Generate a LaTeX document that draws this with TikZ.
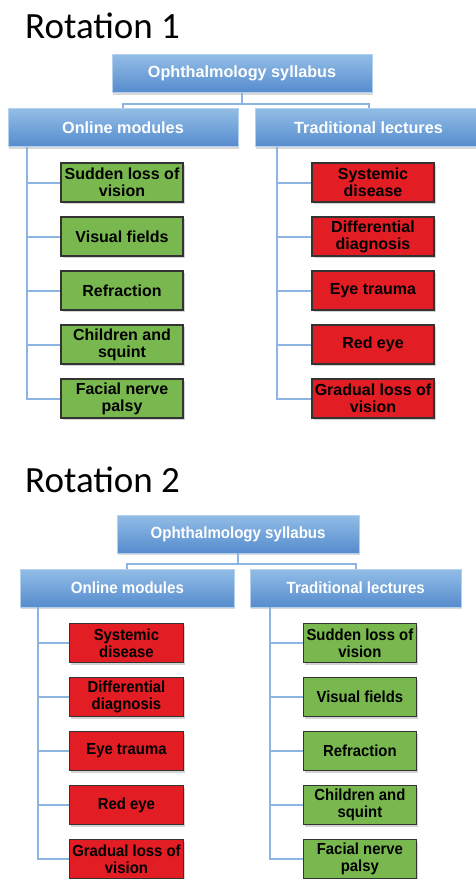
\documentclass[tikz,border=0pt]{standalone}
\usepackage{fontspec}
\setmainfont{Liberation Sans}
\newfontfamily\titlefont{Carlito}
\usepackage{tikz}
\usetikzlibrary{shadows, calc, positioning}
\definecolor{boxtop}{RGB}{146,189,230}
\definecolor{boxbot}{RGB}{86,140,206}
\definecolor{linkblue}{RGB}{142,180,227}
\definecolor{okgreen}{RGB}{120,184,78}
\definecolor{badred}{RGB}{226,29,36}
\tikzset{
    heading/.style = {font=\titlefont\fontsize{37}{40}\selectfont, anchor=base west, inner sep=0pt}, % the "Rotation" titles
    topic/.style = {top color=boxtop, bottom color=boxbot, draw=boxtop!70!white, line width=0.5pt,
        text=white, font=\bfseries\fontsize{16.2}{18}\selectfont, minimum height=38pt,
        drop shadow={opacity=0.3, shadow xshift=1pt, shadow yshift=-2pt}}, % blue heading boxes
    leaf/.style = {draw=black!80, line width=1.1pt, minimum width=122pt, minimum height=39pt,
        align=center, inner sep=1pt, font=\bfseries\fontsize{16}{17}\selectfont,
        drop shadow={opacity=0.35, shadow xshift=1.5pt, shadow yshift=-2pt}},
    good/.style = {leaf, fill=okgreen},
    bad/.style = {leaf, fill=badred},
    link/.style = {draw=linkblue, line width=2pt}
}

\begin{document}
\begin{tikzpicture}[x=1pt, y=-1pt]
    \useasboundingbox (0,0) rectangle (476,879);
    \clip (0,0) rectangle (476,879);
    % Rotation 1
    \node[heading] (r1title) at (25,38) {Rotation 1};
    \node[topic, minimum width=260pt] (r1root) at (242,73.5) {Ophthalmology syllabus};
    \node[topic, minimum width=230pt] (r1on) at (123,127.5) {Online modules};
    \node[topic, minimum width=227pt] (r1tl) at (368.5,127.5) {Traditional lectures};
    \draw[link] (r1root.south) -- ++(0,11) -| (r1on.north);
    \draw[link] (r1root.south) -- ++(0,11) -| (r1tl.north);
    \foreach \i/\txt in {1/{Sudden loss of\\vision}, 2/Visual fields, 3/Refraction,
                         4/{Children and\\squint}, 5/{Facial nerve\\palsy}}
        \node[good] (r1a\i) at (122,128.5+54*\i) {\txt};
    \foreach \i/\txt in {1/{Systemic\\disease}, 2/{Differential\\diagnosis}, 3/Eye trauma,
                         4/Red eye, 5/{Gradual loss of\\vision}}
        \node[bad] (r1b\i) at (373,128.5+54*\i) {\txt};
    \coordinate (r1sa) at ([xshift=19pt]r1on.south west);
    \coordinate (r1sb) at ([xshift=22pt]r1tl.south west);
    \foreach \i in {1,...,5} {
        \draw[link] (r1sa) |- (r1a\i.west);
        \draw[link] (r1sb) |- (r1b\i.west);
    }
    % Rotation 2
    \node[heading] (r2title) at (25,492) {Rotation 2};
    \begin{scope}[shift={(13,460.5)}, xscale=0.93, transform shape]
        \node[topic, minimum width=260pt] (r2root) at (242,73.5) {Ophthalmology syllabus};
        \node[topic, minimum width=230pt] (r2on) at (123,127.5) {Online modules};
        \node[topic, minimum width=227pt] (r2tl) at (368.5,127.5) {Traditional lectures};
        \draw[link] (r2root.south) -- ++(0,11) -| (r2on.north);
        \draw[link] (r2root.south) -- ++(0,11) -| (r2tl.north);
        \foreach \i/\txt in {1/{Systemic\\disease}, 2/{Differential\\diagnosis}, 3/Eye trauma,
                             4/Red eye, 5/{Gradual loss of\\vision}}
            \node[bad] (r2a\i) at (122,128.5+54*\i) {\txt};
        \foreach \i/\txt in {1/{Sudden loss of\\vision}, 2/Visual fields, 3/Refraction,
                             4/{Children and\\squint}, 5/{Facial nerve\\palsy}}
            \node[good] (r2b\i) at (373,128.5+54*\i) {\txt};
        \coordinate (r2sa) at ([xshift=19pt]r2on.south west);
        \coordinate (r2sb) at ([xshift=22pt]r2tl.south west);
        \foreach \i in {1,...,5} {
            \draw[link] (r2sa) |- (r2a\i.west);
            \draw[link] (r2sb) |- (r2b\i.west);
        }
    \end{scope}
\end{tikzpicture}
\end{document}
